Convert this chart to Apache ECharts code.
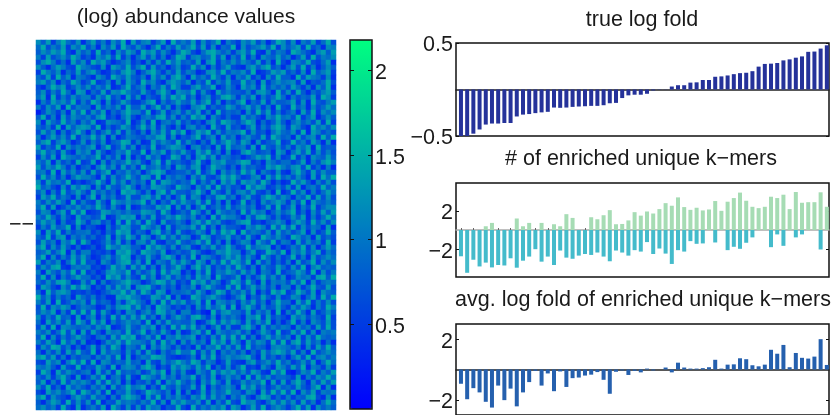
<!DOCTYPE html>
<html>
<head>
<meta charset="utf-8">
<style>html,body{margin:0;padding:0;background:#fff}#c{width:834px;height:415px}</style>
<script src="https://cdn.jsdelivr.net/npm/echarts@6/dist/echarts.min.js"></script>
</head>
<body>
<div id="c"></div>
<script>
const trueLogFold = [-.5,-.5,-.475,-.43,-.377,-.366,-.366,-.36,-.36,-.29,-.27,-.264,-.254,-.246,-.24,-.194,-.197,-.194,-.187,-.183,-.18,-.176,-.176,-.169,-.148,-.144,-.092,-.063,-.056,-.056,-.046,-.01,-.003,.002,.032,.046,.046,.074,.077,.102,.102,.137,.141,.151,.165,.176,.18,.197,.246,.275,.278,.285,.313,.324,.342,.356,.405,.408,.44,.475];
const enrichedUp = [0,0,0,0,.39,.74,0,0,0,1.2,.39,.74,0,.74,0,.6,.39,1.65,1.26,0,0,1.33,1.12,1.54,2.07,.6,.63,1.0,1.86,1.5,1.93,1.72,2.18,2.8,2.53,3.4,2.39,2.1,2.32,2.04,2.14,3.02,2.0,2.95,3.33,3.9,3.05,2.42,2.28,2.42,3.47,3.33,3.68,2.18,3.96,2.84,2.9,2.9,3.93,2.42];
const enrichedDown = [-2.74,-4.46,-3.1,-3.8,-3.4,-3.9,-3.65,-3.7,-2.95,-3.93,-3.2,-2.77,-2.0,-3.3,-2.77,-3.65,-2.14,-2.88,-3.0,-2.67,-2.5,-2.6,-2.35,-2.77,-3.26,-2.14,-2.35,-2.67,-2.1,-2.25,-1.26,-2.5,-1.93,-2.46,-3.54,-2.1,-2.25,-1.16,-1.44,-1.4,0,-1.3,0,-2.1,-1.75,-1.96,-1.33,-.77,0,0,-1.79,-.46,-1.65,0,-.77,-.46,0,0,-2.03,0];
const avgLogFold = [-.94,-1.96,-1.23,-1.51,-2.13,-2.51,-1.06,-2.02,-1.26,-2.43,-1.51,-.83,-.09,-1.06,-.26,-1.43,-.13,-1.15,-.57,-.53,-.4,-.34,-.17,-.68,-1.6,-.15,-.06,-.36,-.09,-.19,.06,-.06,0,.13,-.19,.45,.13,.06,.06,.09,.15,.64,.06,.32,.34,.74,.68,.28,.21,.32,1.3,1.04,1.62,.15,1.09,.77,.72,.85,2.0,.3];
const sampleIndex = trueLogFold.map((_, i) => i + 1);

// Hand-estimated abundance levels, top row first (0 = low, 9 = high).
const abundanceRows = [
"7482695371 5836274918 3672581946 4827359164 2758361497 3716482593",
"5936482759 3617482953 7415926384 6938271549 1735684927 4682935176",
"4758693174 6293517486 2968374159 7315896462 6849217365 2975316848",
"6283574962 4175839261 5837261498 2674593816 3926175484 6148293657",
"3796251847 2968413572 4162739584 5381792647 4753826193 1764932581",
"7415863296 5327186493 6928351472 3947162583 2168479351 5839261474",
"2964715383 6841253796 1479526383 6512784936 5739124868 3527194682",
"5382947165 3175296484 3618472795 1846395271 6482517394 4193865271",
"6847153962 4923617285 2957316864 7153926483 3946182575 6728143593",
"3159682474 7364812593 5716483962 2684591374 1857293646 3852617491",
"4726395187 1538276964 3842695176 5927318464 4362785193 7294153684",
"5819263746 6274935183 7153284969 3615724896 2748163595 1635482972",
"1638574926 3961724852 2479163585 4836927153 6915382744 5827194368",
"6274819365 5183647294 4825937162 1679253486 3584726193 2946173585",
"0375261849 2748153696 6391482573 7482619354 5173948262 4618392757",
"4926183754 6379241583 1564893726 3968174252 2846317595 6392581474",
"7185394626 4812765391 3729156483 5241683975 3697152484 1574638292",
"5362918478 7391524862 5948273161 6735194283 4158263796 2863195747",
"3847162595 1625838274 2617483959 1486927365 6927341585 4729186353",
"6158473926 5948171365 4365892714 3692571846 1574382964 5183672949",
"4792685137 2637145982 6128475393 7415283696 3861724592 3946285171",
"8253917464 6815924837 1539246875 0673518294 5628194373 6275819344",
"5946283175 7284136594 3917582648 4285936171 2796345186 1584927363",
"2738196546 4592637181 5284613972 6179482653 4135869272 3926175484",
"6481735292 3817264595 7316928453 2593176844 6982417535 5248163796",
"8375962614 5169472836 2945736186 3781496525 1745328696 4783925161",
"5629184737 2836915474 6158972344 6392581746 3958164272 1695283744",
"3947261586 6418273595 3872916465 1748325969 5236718494 6374182959",
"7285649131 3595184726 4619287535 4926371858 2867395141 2958416373",
"9463172858 6172843695 1538764296 5174829363 4195872363 7281563946",
"4716293585 2846351978 5261793844 3695184272 6748325191 3947162585",
"2859364171 5917462383 3784826159 2761538946 1583269747 5164928373",
"6374851926 3284196575 6927153848 5483926171 3925174686 2739185464",
"5928136474 6495273181 2543869172 7159246383 5746138292 4816392577",
"3761582949 1238756464 4876295135 3962718545 2938561474 6925173848",
"6495273184 5349126878 1638247596 4725193866 4173895262 3748162595",
"4857162396 2673518294 7295183464 1684957323 6892314575 1586294737",
"2638459171 4310625873 3964718256 5839261744 3175862949 4927365181",
"7184926355 6241539782 5417936283 2475183969 1946537284 6358172494",
"5392781646 3523817496 2861594737 6139724583 5283196474 2974618353",
"3846175929 5124738261 6738215494 3584926171 4761853926 5183746292",
"6927384151 2413965874 4195863726 7216483595 2394678151 3649271585",
"4583691726 6232418795 2976481353 4852137696 6158239749 1758369264",
"5917263848 4125736981 5384279616 3917642585 8374195262 4926183575",
"8264715939 3417526893 7291653848 5286173949 7491836252 6183592747",
"3748921565 6231495728 4826173595 1694825373 9526174385 2739168454",
"6185374929 2413786592 6358294871 4173926586 3847165292 4586291736",
"4927163585 5241968373 2947158363 6285719434 8162594737 1375628949",
"5374896127 3816245796 5136984724 2968375149 7394182656 3849172565",
"2863174959 6142738581 7894263515 4716953283 9258473616 6172594383",
"5194786232 4213576948 3962871545 6385149726 4738152969 2496381754",
"9472635185 3624118796 5238749161 2974685313 6915384272 3761582949",
"6381924757 2835416279 6417293858 3582917646 2748361595 5184926373",
"3927586146 5412637894 8361975242 5173846929 1695273484 2748516396",
"4758162939 3928415176 2573984616 6241093785 5382647191 6395182474",
"7263945181 5716293848 4936172585 3895271646 4176928353 1857364292",
"5184738296 2948163575 6291738454 4712693858 6283749151 4926175383",
"3829176545 6375912484 3758162949 5936148272 2795183646 5174628393",
"6472593818 2841756393 5926384171 2683917545 7361485292 3849271656",
"4917263585 3156284979 2473916585 6815273949 3926158474 6182739545",
"6385194727 1203758496 6538294717 3746195828 5184762939 2793846151",
"2749836151 4827396165 3917485262 4182659373 8293541676 5361728494",
"5163728494 3918465273 7284163595 5927381646 3615284797 4826193575",
"7948261535 5264739181 4659873212 3618492575 6794183525 1583926746",
"3285716949 2917635484 5183274696 4972651383 2168357494 6247381595",
"6574183292 4385291676 3796142858 6384915272 5923174186 3849165272",
"2961847535 6183729454 6248591737 2175394868 4738621959 1037592648",
"5372694181 3749156282 1975384626 5926381474 6192847355 4281637595",
"4816293757 5283947161 4362817595 3617495282 3746591828 2695173848",
"7392518464 2647183595 6815294373 4829163575 1958362474 5384269171",
"3185746929 6372915484 2497536181 6138274595 5276183949 3917482656",
"6927431585 3845162797 5183926474 2759384616 4831697252 6254893171",
"4158629373 7291438565 3649271858 5472816393 2967315848 4728361595",
"5746293181 4638195272 7285614393 1936475828 6148392575 2593817464"
];
const abundanceTicks = [0.5, 1, 1.5, 2];
const levelBase = 0.25, levelStep = 0.135;

const heatData = [];
abundanceRows.forEach((r, y) => {
  r.replace(/ /g, '').split('').forEach((d, x) => heatData.push([x, y, levelBase + levelStep * Number(d)]));
});
const range = n => Array.from({length: n}, (_, i) => i);
const fontFamily = '"Liberation Sans", Arial, sans-serif';
const ink = '#1a1a1a';
const labelFmt = v => String(v).replace('-', '\u2212');
const labelStyle = {color: ink, fontSize: 21.5, fontFamily, margin: 3, verticalAlign: 'top', lineHeight: 5};
const pairs = arr => arr.map((v, i) => [sampleIndex[i], v]);
const noLine = {show: false, onZero: false};

const frames = [
  {top: 43, height: 93, min: -.5, max: .5, ticks: [-.5, .5]},
  {top: 183, height: 94, min: -4.9, max: 4.9, ticks: [-2, 2]},
  {top: 324, height: 93, min: -3, max: 3, ticks: [-2, 2]}
];
const grids = [
  {left: 36, top: 40, width: 300, height: 370, show: false},
  {left: 350, top: 40, width: 22, height: 369, show: true, borderColor: '#111', borderWidth: 1.5, backgroundColor: 'transparent', z: 10}
].concat(frames.map(f => ({left: 456, top: f.top, width: 373, height: f.height, show: true, borderColor: '#111', borderWidth: 1.5})));

const xAxes = [
  {gridIndex: 0, type: 'category', data: range(60), show: false},
  {gridIndex: 1, type: 'value', min: 0, max: 1, show: false}
].concat(frames.map((f, i) => ({
  gridIndex: i + 2, type: 'value', min: 0.2, max: 60.35, splitLine: {show: false}, axisLabel: {show: false},
  axisLine: {onZero: true, lineStyle: {color: i === 1 ? '#aaa' : '#222', width: 1.5}},
  axisTick: i === 1 ? {show: true, inside: true, length: 2, lineStyle: {color: '#666'}, customValues: sampleIndex.filter(n => n % 2 === 1)} : {show: false}
})));
const yAxes = [
  {gridIndex: 0, type: 'category', data: range(abundanceRows.length), inverse: true, show: false},
  {gridIndex: 1, type: 'value', min: 0, max: 2.18, position: 'right', z: 11,
   splitLine: {show: false}, axisLine: noLine,
   axisTick: {inside: true, length: 4, lineStyle: {color: '#111'}, customValues: abundanceTicks},
   axisLabel: Object.assign({}, labelStyle, {customValues: abundanceTicks, formatter: labelFmt})},
  {gridIndex: 1, type: 'value', min: 0, max: 2.18, position: 'left', z: 11,
   splitLine: {show: false}, axisLine: noLine, axisLabel: {show: false},
   axisTick: {inside: true, length: 4, lineStyle: {color: '#111'}, customValues: abundanceTicks}}
];
frames.forEach((f, i) => {
  yAxes.push({gridIndex: i + 2, type: 'value', min: f.min, max: f.max, position: 'left',
    splitLine: {show: false}, axisLine: noLine,
    axisTick: {inside: true, length: 3, lineStyle: {color: '#111'}, customValues: f.ticks},
    axisLabel: Object.assign({}, labelStyle, {customValues: f.ticks, formatter: labelFmt})});
  yAxes.push({gridIndex: i + 2, type: 'value', min: f.min, max: f.max, position: 'right',
    splitLine: {show: false}, axisLine: noLine, axisLabel: {show: false},
    axisTick: {inside: true, length: 3, lineStyle: {color: '#111'}, customValues: f.ticks}});
});
const bar = (xi, yi, data, color, stack) => ({type: 'bar', xAxisIndex: xi, yAxisIndex: yi, data: pairs(data), barWidth: 4, stack, silent: true, animation: false, itemStyle: {color}});
const title = (text, x, y, size) => ({text, left: x, top: y, padding: 0, textAlign: 'center', textVerticalAlign: 'middle',
  textStyle: {fontFamily, fontSize: size || 21.5, fontWeight: 'normal', color: ink}});

echarts.init(document.getElementById('c'), null, {renderer: 'canvas'}).setOption({
  animation: false,
  backgroundColor: '#fff',
  title: [
    title('(log) abundance values', 186, 17, 21),
    title('true log fold', 642, 20),
    title('# of enriched unique k\u2212mers', 641, 159),
    title('avg. log fold of enriched unique k\u2212mers', 643, 300)
  ],
  grid: grids,
  xAxis: xAxes,
  yAxis: yAxes,
  visualMap: {type: 'continuous', seriesIndex: 0, min: 0, max: 2.18, left: 350, top: 40, padding: 0, itemWidth: 22, itemHeight: 369, z: 1,
    calculable: false, hoverLink: false, showLabel: false, inRange: {color: ['#0000ff', '#00ff80']}},
  graphic: [{type: 'text', left: 9, top: 214, style: {text: '\u2212\u2212', fontFamily, fontSize: 21.5, fill: ink}}],
  series: [
    {type: 'heatmap', xAxisIndex: 0, yAxisIndex: 0, data: heatData, progressive: 0, silent: true, animation: false},
    bar(2, 3, trueLogFold, '#25329a'),
    bar(3, 5, enrichedUp, '#a6dcb4', 'k'),
    bar(3, 5, enrichedDown, '#44bbcb', 'k'),
    bar(4, 7, avgLogFold, '#2560ae')
  ]
});
</script>
</body>
</html>
